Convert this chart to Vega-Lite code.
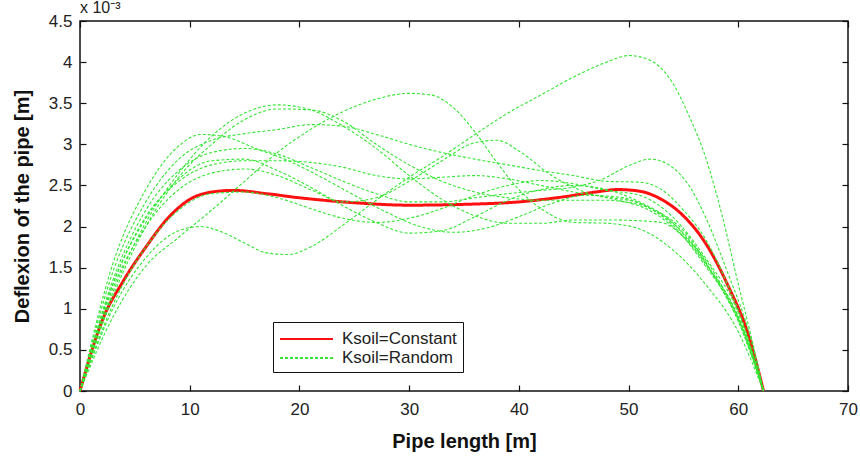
{
  "$schema": "https://vega.github.io/schema/vega-lite/v6.json",
  "width": 768,
  "height": 370,
  "autosize": "none",
  "padding": {"left": 80, "top": 21, "right": 12, "bottom": 65},
  "background": "white",
  "title": {"text": "x 10⁻³", "anchor": "start", "frame": "group", "offset": -4, "fontSize": 16, "fontWeight": "normal", "font": "Liberation Sans", "color": "#222"},
  "config": {
    "view": {"stroke": "#111", "strokeWidth": 1.5},
    "axis": {"grid": false, "domain": false, "tickColor": "#111", "tickSize": 6, "tickWidth": 1.2, "labelFlush": false, "labelFont": "Liberation Sans", "labelFontSize": 17, "labelColor": "#222", "titleFont": "Liberation Sans", "titleFontSize": 20, "titleFontWeight": "bold", "titleColor": "#111"},
    "legend": {"orient": "none", "legendX": 193, "legendY": 301, "title": null, "strokeColor": "#111", "fillColor": "white", "padding": 6, "symbolType": "M-1,0H4.3", "symbolSize": 400, "symbolStrokeWidth": 2, "labelFont": "Liberation Sans", "labelFontSize": 17, "labelColor": "#222", "labelOffset": 41, "rowPadding": 0, "cornerRadius": 0}
  },
  "datasets": {
    "curves": [
      {"series":"R","type":"Ksoil=Constant","x":0,"y":0},{"series":"R","type":"Ksoil=Constant","x":2,"y":0.85},{"series":"R","type":"Ksoil=Constant","x":4,"y":1.35},{"series":"R","type":"Ksoil=Constant","x":6,"y":1.75},{"series":"R","type":"Ksoil=Constant","x":8,"y":2.1},{"series":"R","type":"Ksoil=Constant","x":10,"y":2.33},{"series":"R","type":"Ksoil=Constant","x":12,"y":2.42},{"series":"R","type":"Ksoil=Constant","x":14,"y":2.44},{"series":"R","type":"Ksoil=Constant","x":17,"y":2.4},{"series":"R","type":"Ksoil=Constant","x":20,"y":2.35},{"series":"R","type":"Ksoil=Constant","x":25,"y":2.29},{"series":"R","type":"Ksoil=Constant","x":30,"y":2.26},{"series":"R","type":"Ksoil=Constant","x":35,"y":2.27},{"series":"R","type":"Ksoil=Constant","x":40,"y":2.3},{"series":"R","type":"Ksoil=Constant","x":44,"y":2.36},{"series":"R","type":"Ksoil=Constant","x":47,"y":2.42},{"series":"R","type":"Ksoil=Constant","x":49,"y":2.45},{"series":"R","type":"Ksoil=Constant","x":51,"y":2.43},{"series":"R","type":"Ksoil=Constant","x":53,"y":2.33},{"series":"R","type":"Ksoil=Constant","x":55,"y":2.13},{"series":"R","type":"Ksoil=Constant","x":57,"y":1.8},{"series":"R","type":"Ksoil=Constant","x":59,"y":1.3},{"series":"R","type":"Ksoil=Constant","x":61,"y":0.65},{"series":"R","type":"Ksoil=Constant","x":62.3,"y":0},

      {"series":"A","type":"Ksoil=Random","x":0,"y":0},{"series":"A","type":"Ksoil=Random","x":3,"y":1.0},{"series":"A","type":"Ksoil=Random","x":6,"y":1.62},{"series":"A","type":"Ksoil=Random","x":9,"y":1.95},{"series":"A","type":"Ksoil=Random","x":11,"y":2.0},{"series":"A","type":"Ksoil=Random","x":13,"y":1.93},{"series":"A","type":"Ksoil=Random","x":15,"y":1.8},{"series":"A","type":"Ksoil=Random","x":17,"y":1.68},{"series":"A","type":"Ksoil=Random","x":19,"y":1.66},{"series":"A","type":"Ksoil=Random","x":21,"y":1.75},{"series":"A","type":"Ksoil=Random","x":24,"y":2.02},{"series":"A","type":"Ksoil=Random","x":27,"y":2.32},{"series":"A","type":"Ksoil=Random","x":30,"y":2.6},{"series":"A","type":"Ksoil=Random","x":33,"y":2.85},{"series":"A","type":"Ksoil=Random","x":36,"y":3.12},{"series":"A","type":"Ksoil=Random","x":39,"y":3.38},{"series":"A","type":"Ksoil=Random","x":42,"y":3.6},{"series":"A","type":"Ksoil=Random","x":45,"y":3.82},{"series":"A","type":"Ksoil=Random","x":48,"y":4.0},{"series":"A","type":"Ksoil=Random","x":50,"y":4.08},{"series":"A","type":"Ksoil=Random","x":52,"y":4.02},{"series":"A","type":"Ksoil=Random","x":54,"y":3.75},{"series":"A","type":"Ksoil=Random","x":55.5,"y":3.35},{"series":"A","type":"Ksoil=Random","x":57,"y":2.85},{"series":"A","type":"Ksoil=Random","x":58.5,"y":2.15},{"series":"A","type":"Ksoil=Random","x":60,"y":1.3},{"series":"A","type":"Ksoil=Random","x":61.2,"y":0.65},{"series":"A","type":"Ksoil=Random","x":62.3,"y":0},

      {"series":"B","type":"Ksoil=Random","x":0,"y":0},{"series":"B","type":"Ksoil=Random","x":3,"y":0.9},{"series":"B","type":"Ksoil=Random","x":6,"y":1.52},{"series":"B","type":"Ksoil=Random","x":9,"y":1.87},{"series":"B","type":"Ksoil=Random","x":12,"y":2.2},{"series":"B","type":"Ksoil=Random","x":15,"y":2.55},{"series":"B","type":"Ksoil=Random","x":18,"y":2.9},{"series":"B","type":"Ksoil=Random","x":21,"y":3.18},{"series":"B","type":"Ksoil=Random","x":24,"y":3.4},{"series":"B","type":"Ksoil=Random","x":27,"y":3.55},{"series":"B","type":"Ksoil=Random","x":30,"y":3.62},{"series":"B","type":"Ksoil=Random","x":32,"y":3.6},{"series":"B","type":"Ksoil=Random","x":34,"y":3.45},{"series":"B","type":"Ksoil=Random","x":36,"y":3.15},{"series":"B","type":"Ksoil=Random","x":38,"y":2.78},{"series":"B","type":"Ksoil=Random","x":40,"y":2.45},{"series":"B","type":"Ksoil=Random","x":42,"y":2.22},{"series":"B","type":"Ksoil=Random","x":45,"y":2.05},{"series":"B","type":"Ksoil=Random","x":48,"y":2.04},{"series":"B","type":"Ksoil=Random","x":51,"y":1.97},{"series":"B","type":"Ksoil=Random","x":54,"y":1.72},{"series":"B","type":"Ksoil=Random","x":57,"y":1.3},{"series":"B","type":"Ksoil=Random","x":60,"y":0.72},{"series":"B","type":"Ksoil=Random","x":62.3,"y":0},

      {"series":"C1","type":"Ksoil=Random","x":0,"y":0},{"series":"C1","type":"Ksoil=Random","x":3,"y":1.55},{"series":"C1","type":"Ksoil=Random","x":6,"y":2.45},{"series":"C1","type":"Ksoil=Random","x":9,"y":2.98},{"series":"C1","type":"Ksoil=Random","x":11,"y":3.12},{"series":"C1","type":"Ksoil=Random","x":13,"y":3.1},{"series":"C1","type":"Ksoil=Random","x":16,"y":2.95},{"series":"C1","type":"Ksoil=Random","x":19,"y":2.8},{"series":"C1","type":"Ksoil=Random","x":22,"y":2.6},{"series":"C1","type":"Ksoil=Random","x":25,"y":2.38},{"series":"C1","type":"Ksoil=Random","x":28,"y":2.17},{"series":"C1","type":"Ksoil=Random","x":31,"y":2.0},{"series":"C1","type":"Ksoil=Random","x":34,"y":1.93},{"series":"C1","type":"Ksoil=Random","x":37,"y":1.98},{"series":"C1","type":"Ksoil=Random","x":40,"y":2.12},{"series":"C1","type":"Ksoil=Random","x":43,"y":2.28},{"series":"C1","type":"Ksoil=Random","x":46,"y":2.38},{"series":"C1","type":"Ksoil=Random","x":49,"y":2.36},{"series":"C1","type":"Ksoil=Random","x":52,"y":2.22},{"series":"C1","type":"Ksoil=Random","x":55,"y":1.92},{"series":"C1","type":"Ksoil=Random","x":58,"y":1.35},{"series":"C1","type":"Ksoil=Random","x":60,"y":0.85},{"series":"C1","type":"Ksoil=Random","x":62.3,"y":0},

      {"series":"C2","type":"Ksoil=Random","x":0,"y":0},{"series":"C2","type":"Ksoil=Random","x":3,"y":1.45},{"series":"C2","type":"Ksoil=Random","x":6,"y":2.3},{"series":"C2","type":"Ksoil=Random","x":9,"y":2.82},{"series":"C2","type":"Ksoil=Random","x":12,"y":3.05},{"series":"C2","type":"Ksoil=Random","x":15,"y":3.13},{"series":"C2","type":"Ksoil=Random","x":18,"y":3.18},{"series":"C2","type":"Ksoil=Random","x":21,"y":3.24},{"series":"C2","type":"Ksoil=Random","x":24,"y":3.22},{"series":"C2","type":"Ksoil=Random","x":27,"y":3.12},{"series":"C2","type":"Ksoil=Random","x":30,"y":3.0},{"series":"C2","type":"Ksoil=Random","x":33,"y":2.9},{"series":"C2","type":"Ksoil=Random","x":36,"y":2.82},{"series":"C2","type":"Ksoil=Random","x":39,"y":2.75},{"series":"C2","type":"Ksoil=Random","x":42,"y":2.68},{"series":"C2","type":"Ksoil=Random","x":45,"y":2.62},{"series":"C2","type":"Ksoil=Random","x":48,"y":2.55},{"series":"C2","type":"Ksoil=Random","x":51,"y":2.54},{"series":"C2","type":"Ksoil=Random","x":53,"y":2.45},{"series":"C2","type":"Ksoil=Random","x":55,"y":2.2},{"series":"C2","type":"Ksoil=Random","x":57,"y":1.85},{"series":"C2","type":"Ksoil=Random","x":59,"y":1.3},{"series":"C2","type":"Ksoil=Random","x":60.5,"y":0.8},{"series":"C2","type":"Ksoil=Random","x":62.3,"y":0},

      {"series":"D1","type":"Ksoil=Random","x":0,"y":0},{"series":"D1","type":"Ksoil=Random","x":3,"y":1.2},{"series":"D1","type":"Ksoil=Random","x":6,"y":2.05},{"series":"D1","type":"Ksoil=Random","x":9,"y":2.65},{"series":"D1","type":"Ksoil=Random","x":12,"y":3.1},{"series":"D1","type":"Ksoil=Random","x":15,"y":3.38},{"series":"D1","type":"Ksoil=Random","x":18,"y":3.48},{"series":"D1","type":"Ksoil=Random","x":21,"y":3.42},{"series":"D1","type":"Ksoil=Random","x":24,"y":3.22},{"series":"D1","type":"Ksoil=Random","x":27,"y":2.95},{"series":"D1","type":"Ksoil=Random","x":30,"y":2.62},{"series":"D1","type":"Ksoil=Random","x":33,"y":2.33},{"series":"D1","type":"Ksoil=Random","x":36,"y":2.13},{"series":"D1","type":"Ksoil=Random","x":39,"y":2.04},{"series":"D1","type":"Ksoil=Random","x":42,"y":2.04},{"series":"D1","type":"Ksoil=Random","x":45,"y":2.08},{"series":"D1","type":"Ksoil=Random","x":48,"y":2.08},{"series":"D1","type":"Ksoil=Random","x":51,"y":2.07},{"series":"D1","type":"Ksoil=Random","x":53,"y":2.05},{"series":"D1","type":"Ksoil=Random","x":55,"y":1.88},{"series":"D1","type":"Ksoil=Random","x":57,"y":1.6},{"series":"D1","type":"Ksoil=Random","x":59,"y":1.15},{"series":"D1","type":"Ksoil=Random","x":61,"y":0.55},{"series":"D1","type":"Ksoil=Random","x":62.3,"y":0},

      {"series":"D2","type":"Ksoil=Random","x":0,"y":0},{"series":"D2","type":"Ksoil=Random","x":3,"y":1.15},{"series":"D2","type":"Ksoil=Random","x":6,"y":2.0},{"series":"D2","type":"Ksoil=Random","x":9,"y":2.6},{"series":"D2","type":"Ksoil=Random","x":12,"y":3.0},{"series":"D2","type":"Ksoil=Random","x":15,"y":3.3},{"series":"D2","type":"Ksoil=Random","x":18,"y":3.43},{"series":"D2","type":"Ksoil=Random","x":21,"y":3.42},{"series":"D2","type":"Ksoil=Random","x":24,"y":3.28},{"series":"D2","type":"Ksoil=Random","x":27,"y":3.0},{"series":"D2","type":"Ksoil=Random","x":30,"y":2.75},{"series":"D2","type":"Ksoil=Random","x":33,"y":2.55},{"series":"D2","type":"Ksoil=Random","x":36,"y":2.42},{"series":"D2","type":"Ksoil=Random","x":39,"y":2.35},{"series":"D2","type":"Ksoil=Random","x":42,"y":2.32},{"series":"D2","type":"Ksoil=Random","x":45,"y":2.32},{"series":"D2","type":"Ksoil=Random","x":48,"y":2.32},{"series":"D2","type":"Ksoil=Random","x":51,"y":2.25},{"series":"D2","type":"Ksoil=Random","x":54,"y":2.0},{"series":"D2","type":"Ksoil=Random","x":57,"y":1.55},{"series":"D2","type":"Ksoil=Random","x":60,"y":0.9},{"series":"D2","type":"Ksoil=Random","x":62.3,"y":0},

      {"series":"E","type":"Ksoil=Random","x":0,"y":0},{"series":"E","type":"Ksoil=Random","x":3,"y":1.35},{"series":"E","type":"Ksoil=Random","x":6,"y":2.2},{"series":"E","type":"Ksoil=Random","x":9,"y":2.68},{"series":"E","type":"Ksoil=Random","x":12,"y":2.9},{"series":"E","type":"Ksoil=Random","x":15,"y":2.95},{"series":"E","type":"Ksoil=Random","x":18,"y":2.88},{"series":"E","type":"Ksoil=Random","x":21,"y":2.72},{"series":"E","type":"Ksoil=Random","x":24,"y":2.55},{"series":"E","type":"Ksoil=Random","x":27,"y":2.4},{"series":"E","type":"Ksoil=Random","x":30,"y":2.3},{"series":"E","type":"Ksoil=Random","x":33,"y":2.3},{"series":"E","type":"Ksoil=Random","x":36,"y":2.35},{"series":"E","type":"Ksoil=Random","x":39,"y":2.4},{"series":"E","type":"Ksoil=Random","x":42,"y":2.44},{"series":"E","type":"Ksoil=Random","x":45,"y":2.48},{"series":"E","type":"Ksoil=Random","x":47.5,"y":2.57},{"series":"E","type":"Ksoil=Random","x":50,"y":2.74},{"series":"E","type":"Ksoil=Random","x":52,"y":2.82},{"series":"E","type":"Ksoil=Random","x":54,"y":2.72},{"series":"E","type":"Ksoil=Random","x":55.5,"y":2.5},{"series":"E","type":"Ksoil=Random","x":57,"y":2.12},{"series":"E","type":"Ksoil=Random","x":59,"y":1.45},{"series":"E","type":"Ksoil=Random","x":61,"y":0.7},{"series":"E","type":"Ksoil=Random","x":62.3,"y":0},

      {"series":"G","type":"Ksoil=Random","x":0,"y":0},{"series":"G","type":"Ksoil=Random","x":3,"y":1.25},{"series":"G","type":"Ksoil=Random","x":6,"y":2.0},{"series":"G","type":"Ksoil=Random","x":9,"y":2.45},{"series":"G","type":"Ksoil=Random","x":12,"y":2.65},{"series":"G","type":"Ksoil=Random","x":15,"y":2.7},{"series":"G","type":"Ksoil=Random","x":18,"y":2.62},{"series":"G","type":"Ksoil=Random","x":21,"y":2.45},{"series":"G","type":"Ksoil=Random","x":24,"y":2.3},{"series":"G","type":"Ksoil=Random","x":27,"y":2.35},{"series":"G","type":"Ksoil=Random","x":30,"y":2.55},{"series":"G","type":"Ksoil=Random","x":33,"y":2.8},{"series":"G","type":"Ksoil=Random","x":36,"y":3.02},{"series":"G","type":"Ksoil=Random","x":38,"y":3.05},{"series":"G","type":"Ksoil=Random","x":40,"y":2.92},{"series":"G","type":"Ksoil=Random","x":43,"y":2.62},{"series":"G","type":"Ksoil=Random","x":46,"y":2.42},{"series":"G","type":"Ksoil=Random","x":49,"y":2.32},{"series":"G","type":"Ksoil=Random","x":52,"y":2.22},{"series":"G","type":"Ksoil=Random","x":55,"y":1.95},{"series":"G","type":"Ksoil=Random","x":58,"y":1.35},{"series":"G","type":"Ksoil=Random","x":60,"y":0.85},{"series":"G","type":"Ksoil=Random","x":62.3,"y":0},

      {"series":"H","type":"Ksoil=Random","x":0,"y":0},{"series":"H","type":"Ksoil=Random","x":3,"y":1.05},{"series":"H","type":"Ksoil=Random","x":6,"y":1.75},{"series":"H","type":"Ksoil=Random","x":9,"y":2.2},{"series":"H","type":"Ksoil=Random","x":12,"y":2.4},{"series":"H","type":"Ksoil=Random","x":15,"y":2.42},{"series":"H","type":"Ksoil=Random","x":18,"y":2.35},{"series":"H","type":"Ksoil=Random","x":21,"y":2.22},{"series":"H","type":"Ksoil=Random","x":24,"y":2.1},{"series":"H","type":"Ksoil=Random","x":27,"y":2.05},{"series":"H","type":"Ksoil=Random","x":30,"y":2.1},{"series":"H","type":"Ksoil=Random","x":33,"y":2.22},{"series":"H","type":"Ksoil=Random","x":36,"y":2.38},{"series":"H","type":"Ksoil=Random","x":39,"y":2.5},{"series":"H","type":"Ksoil=Random","x":42,"y":2.56},{"series":"H","type":"Ksoil=Random","x":45,"y":2.52},{"series":"H","type":"Ksoil=Random","x":48,"y":2.44},{"series":"H","type":"Ksoil=Random","x":51,"y":2.38},{"series":"H","type":"Ksoil=Random","x":54,"y":2.12},{"series":"H","type":"Ksoil=Random","x":57,"y":1.62},{"series":"H","type":"Ksoil=Random","x":60,"y":0.95},{"series":"H","type":"Ksoil=Random","x":62.3,"y":0},

      {"series":"I","type":"Ksoil=Random","x":0,"y":0},{"series":"I","type":"Ksoil=Random","x":3,"y":1.3},{"series":"I","type":"Ksoil=Random","x":6,"y":2.1},{"series":"I","type":"Ksoil=Random","x":9,"y":2.58},{"series":"I","type":"Ksoil=Random","x":12,"y":2.8},{"series":"I","type":"Ksoil=Random","x":15,"y":2.82},{"series":"I","type":"Ksoil=Random","x":18,"y":2.68},{"series":"I","type":"Ksoil=Random","x":21,"y":2.48},{"series":"I","type":"Ksoil=Random","x":24,"y":2.25},{"series":"I","type":"Ksoil=Random","x":27,"y":2.05},{"series":"I","type":"Ksoil=Random","x":30,"y":1.92},{"series":"I","type":"Ksoil=Random","x":33,"y":1.95},{"series":"I","type":"Ksoil=Random","x":36,"y":2.12},{"series":"I","type":"Ksoil=Random","x":39,"y":2.32},{"series":"I","type":"Ksoil=Random","x":42,"y":2.45},{"series":"I","type":"Ksoil=Random","x":45,"y":2.5},{"series":"I","type":"Ksoil=Random","x":48,"y":2.45},{"series":"I","type":"Ksoil=Random","x":51,"y":2.3},{"series":"I","type":"Ksoil=Random","x":54,"y":2.05},{"series":"I","type":"Ksoil=Random","x":57,"y":1.55},{"series":"I","type":"Ksoil=Random","x":60,"y":0.9},{"series":"I","type":"Ksoil=Random","x":62.3,"y":0},

      {"series":"F","type":"Ksoil=Random","x":0,"y":0},{"series":"F","type":"Ksoil=Random","x":3,"y":1.3},{"series":"F","type":"Ksoil=Random","x":6,"y":2.12},{"series":"F","type":"Ksoil=Random","x":9,"y":2.55},{"series":"F","type":"Ksoil=Random","x":12,"y":2.75},{"series":"F","type":"Ksoil=Random","x":15,"y":2.8},{"series":"F","type":"Ksoil=Random","x":18,"y":2.8},{"series":"F","type":"Ksoil=Random","x":21,"y":2.78},{"series":"F","type":"Ksoil=Random","x":24,"y":2.72},{"series":"F","type":"Ksoil=Random","x":27,"y":2.62},{"series":"F","type":"Ksoil=Random","x":30,"y":2.58},{"series":"F","type":"Ksoil=Random","x":33,"y":2.6},{"series":"F","type":"Ksoil=Random","x":36,"y":2.62},{"series":"F","type":"Ksoil=Random","x":39,"y":2.58},{"series":"F","type":"Ksoil=Random","x":42,"y":2.5},{"series":"F","type":"Ksoil=Random","x":45,"y":2.42},{"series":"F","type":"Ksoil=Random","x":48,"y":2.36},{"series":"F","type":"Ksoil=Random","x":51,"y":2.28},{"series":"F","type":"Ksoil=Random","x":54,"y":2.02},{"series":"F","type":"Ksoil=Random","x":57,"y":1.52},{"series":"F","type":"Ksoil=Random","x":60,"y":0.88},{"series":"F","type":"Ksoil=Random","x":62.3,"y":0}
    ]
  },
  "data": {"name": "curves"},
  "layer": [
    {
      "transform": [{"filter": "datum.type === 'Ksoil=Constant'"}],
      "mark": {"type": "line", "interpolate": "monotone", "strokeWidth": 3},
      "encoding": {
        "x": {"field": "x", "type": "quantitative", "scale": {"domain": [0, 70], "nice": false}, "axis": {"values": [0,10,20,30,40,50,60,70], "format": "d", "title": "Pipe length [m]", "ticks": false, "labelPadding": 10, "titlePadding": 14}},
        "y": {"field": "y", "type": "quantitative", "scale": {"domain": [0, 4.5], "nice": false}, "axis": {"values": [0,0.5,1,1.5,2,2.5,3,3.5,4,4.5], "format": "~g", "title": "Deflexion of the pipe [m]", "ticks": false, "labelPadding": 8, "titlePadding": 16}},
        "detail": {"field": "series"},
        "color": {"field": "type", "type": "nominal", "scale": {"domain": ["Ksoil=Constant", "Ksoil=Random"], "range": ["#ff1010", "#33e633"]}},
        "strokeDash": {"field": "type", "type": "nominal", "scale": {"domain": ["Ksoil=Constant", "Ksoil=Random"], "range": [[1, 0], [3, 2]]}}
      }
    },
    {
      "transform": [{"filter": "datum.type === 'Ksoil=Random'"}],
      "mark": {"type": "line", "interpolate": "monotone", "strokeWidth": 1.1},
      "encoding": {
        "x": {"field": "x", "type": "quantitative", "axis": {"orient": "top", "offset": -370, "values": [0,10,20,30,40,50,60,70], "labels": false, "title": null}},
        "y": {"field": "y", "type": "quantitative", "axis": {"orient": "right", "offset": -768, "values": [0,0.5,1,1.5,2,2.5,3,3.5,4,4.5], "labels": false, "title": null}},
        "detail": {"field": "series"},
        "color": {"field": "type", "type": "nominal"},
        "strokeDash": {"field": "type", "type": "nominal"}
      }
    },
    {
      "transform": [{"filter": "datum.series === 'R'"}],
      "mark": {"type": "point", "opacity": 0},
      "encoding": {
        "x": {"field": "x", "type": "quantitative", "axis": {"orient": "bottom", "offset": -370, "values": [0,10,20,30,40,50,60,70], "labels": false, "title": null}},
        "y": {"field": "y", "type": "quantitative", "axis": {"orient": "left", "offset": -768, "values": [0,0.5,1,1.5,2,2.5,3,3.5,4,4.5], "labels": false, "title": null}}
      }
    }
  ],
  "resolve": {"axis": {"x": "independent", "y": "independent"}}
}
